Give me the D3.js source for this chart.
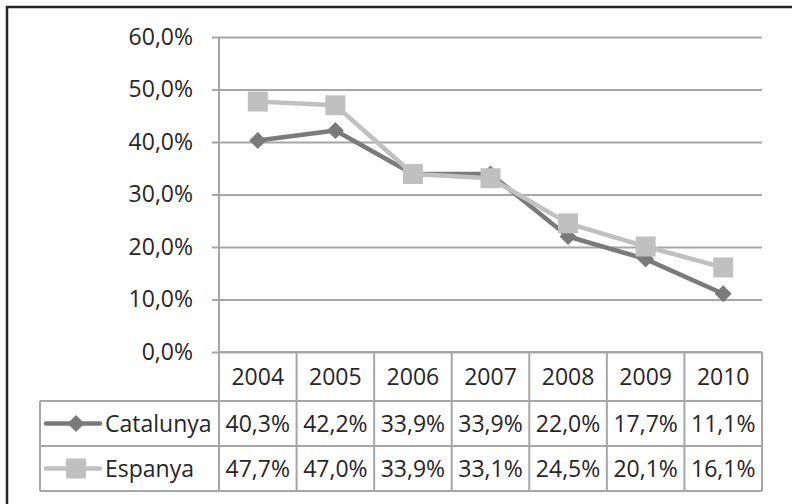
<!DOCTYPE html>
<html lang="ca">
<head>
<meta charset="UTF-8">
<title>Catalunya vs Espanya</title>
<script src="https://d3js.org/d3.v7.min.js"></script>
<style>
  body { margin: 0; background: #fff; }
  svg text { font-family: "Open Sans", sans-serif; fill: #262626; }
</style>
</head>
<body>
<div id="chart"></div>
<script>
// data
var years = ["2004", "2005", "2006", "2007", "2008", "2009", "2010"];
var catalunya = [40.3, 42.2, 33.9, 33.9, 22.0, 17.7, 11.1];
var espanya = [47.7, 47.0, 33.9, 33.1, 24.5, 20.1, 16.1];
var yTicks = [0, 10, 20, 30, 40, 50, 60];

var width = 792, height = 504;
var plot = { left: 219, right: 762, top: 37, bottom: 352 };
var rowH = [49, 45, 45]; // header, Catalunya, Espanya
var legendLeft = 40;
var fontSize = 23;

var fmt = function(v) { return v.toFixed(1).replace(".", ",") + "%"; };

var series = [
  { name: "Catalunya", values: catalunya, color: "#7a7a7a", marker: "diamond" },
  { name: "Espanya", values: espanya, color: "#c0c0c0", marker: "square" }
];

var svg = d3.select("#chart").append("svg")
  .attr("width", width)
  .attr("height", height);

// outer frame (runs off the right and bottom edge)
svg.append("rect")
  .attr("x", 7).attr("y", 7)
  .attr("width", width + 20).attr("height", height + 20)
  .attr("fill", "none")
  .attr("stroke", "#262626")
  .attr("stroke-width", 2.5);

var x = d3.scaleBand().domain(years).range([plot.left, plot.right]);
var y = d3.scaleLinear().domain([0, 60]).range([plot.bottom, plot.top]);

// gridlines + y axis
var yAxis = d3.axisLeft(y)
  .tickValues(yTicks)
  .tickSize(-(plot.right - plot.left))
  .tickPadding(26)
  .tickFormat(fmt);

var ga = svg.append("g")
  .attr("transform", "translate(" + plot.left + ",0)")
  .call(yAxis);
ga.select(".domain").remove();
ga.selectAll(".tick line")
  .attr("x1", -7)
  .attr("stroke", "#a6a6a6")
  .attr("stroke-width", 2);
ga.selectAll(".tick text")
  .attr("font-size", fontSize)
  .attr("fill", "#262626")
  .attr("font-family", "Open Sans, sans-serif");

// vertical axis line
svg.append("line")
  .attr("x1", plot.left).attr("x2", plot.left)
  .attr("y1", plot.top).attr("y2", plot.bottom)
  .attr("stroke", "#a6a6a6").attr("stroke-width", 2);

// data table
var tableTop = plot.bottom;
var rowTops = [tableTop, tableTop + rowH[0], tableTop + rowH[0] + rowH[1]];
var tableBottom = rowTops[2] + rowH[2];
var grid = svg.append("g")
  .attr("stroke", "#a6a6a6")
  .attr("stroke-width", 2);

// horizontal lines
grid.append("line").attr("x1", plot.left).attr("x2", plot.right)
  .attr("y1", rowTops[0]).attr("y2", rowTops[0]);
[rowTops[1], rowTops[2], tableBottom].forEach(function(yy) {
  grid.append("line").attr("x1", legendLeft).attr("x2", plot.right)
    .attr("y1", yy).attr("y2", yy);
});
// vertical lines
years.forEach(function(yr) {
  grid.append("line").attr("x1", x(yr)).attr("x2", x(yr))
    .attr("y1", tableTop).attr("y2", tableBottom);
});
grid.append("line").attr("x1", plot.right).attr("x2", plot.right)
  .attr("y1", tableTop).attr("y2", tableBottom);
grid.append("line").attr("x1", legendLeft).attr("x2", legendLeft)
  .attr("y1", rowTops[1]).attr("y2", tableBottom);

// header years
svg.selectAll(".year")
  .data(years)
  .enter().append("text")
  .attr("class", "year")
  .attr("x", function(d) { return x(d) + x.bandwidth() / 2; })
  .attr("y", rowTops[0] + rowH[0] / 2)
  .attr("dy", "0.36em")
  .attr("text-anchor", "middle")
  .attr("font-size", fontSize)
  .text(function(d) { return d; });

var line = d3.line()
  .x(function(d, i) { return x(years[i]) + x.bandwidth() / 2; })
  .y(function(d) { return y(d); });

function drawMarker(g, kind, cx, cy, color) {
  if (kind === "diamond") {
    var r = 8.5;
    g.append("path")
      .attr("d", "M" + cx + "," + (cy - r) + "L" + (cx + r) + "," + cy +
        "L" + cx + "," + (cy + r) + "L" + (cx - r) + "," + cy + "Z")
      .attr("fill", color);
  } else {
    var s = 20;
    g.append("rect")
      .attr("x", cx - s / 2).attr("y", cy - s / 2)
      .attr("width", s).attr("height", s)
      .attr("fill", color);
  }
}

series.forEach(function(s, si) {
  var g = svg.append("g");
  g.append("path")
    .datum(s.values)
    .attr("d", line)
    .attr("fill", "none")
    .attr("stroke", s.color)
    .attr("stroke-width", 4.5)
    .attr("stroke-linejoin", "round");
  s.values.forEach(function(v, i) {
    drawMarker(g, s.marker, x(years[i]) + x.bandwidth() / 2, y(v), s.color);
  });

  // table row
  var rowMid = rowTops[si + 1] + rowH[si + 1] / 2;
  var lg = svg.append("g");
  lg.append("line")
    .attr("x1", 46).attr("x2", 100)
    .attr("y1", rowMid).attr("y2", rowMid)
    .attr("stroke", s.color).attr("stroke-width", 4.5)
    .attr("stroke-linecap", "round");
  drawMarker(lg, s.marker, 76, rowMid, s.color);
  lg.append("text")
    .attr("x", 105).attr("y", rowMid)
    .attr("dy", "0.36em")
    .attr("font-size", fontSize)
    .text(s.name);

  svg.selectAll(".val" + si)
    .data(s.values)
    .enter().append("text")
    .attr("x", function(d, i) { return x(years[i]) + x.bandwidth() / 2; })
    .attr("y", rowMid)
    .attr("dy", "0.36em")
    .attr("text-anchor", "middle")
    .attr("font-size", fontSize)
    .text(fmt);
});
</script>
</body>
</html>
